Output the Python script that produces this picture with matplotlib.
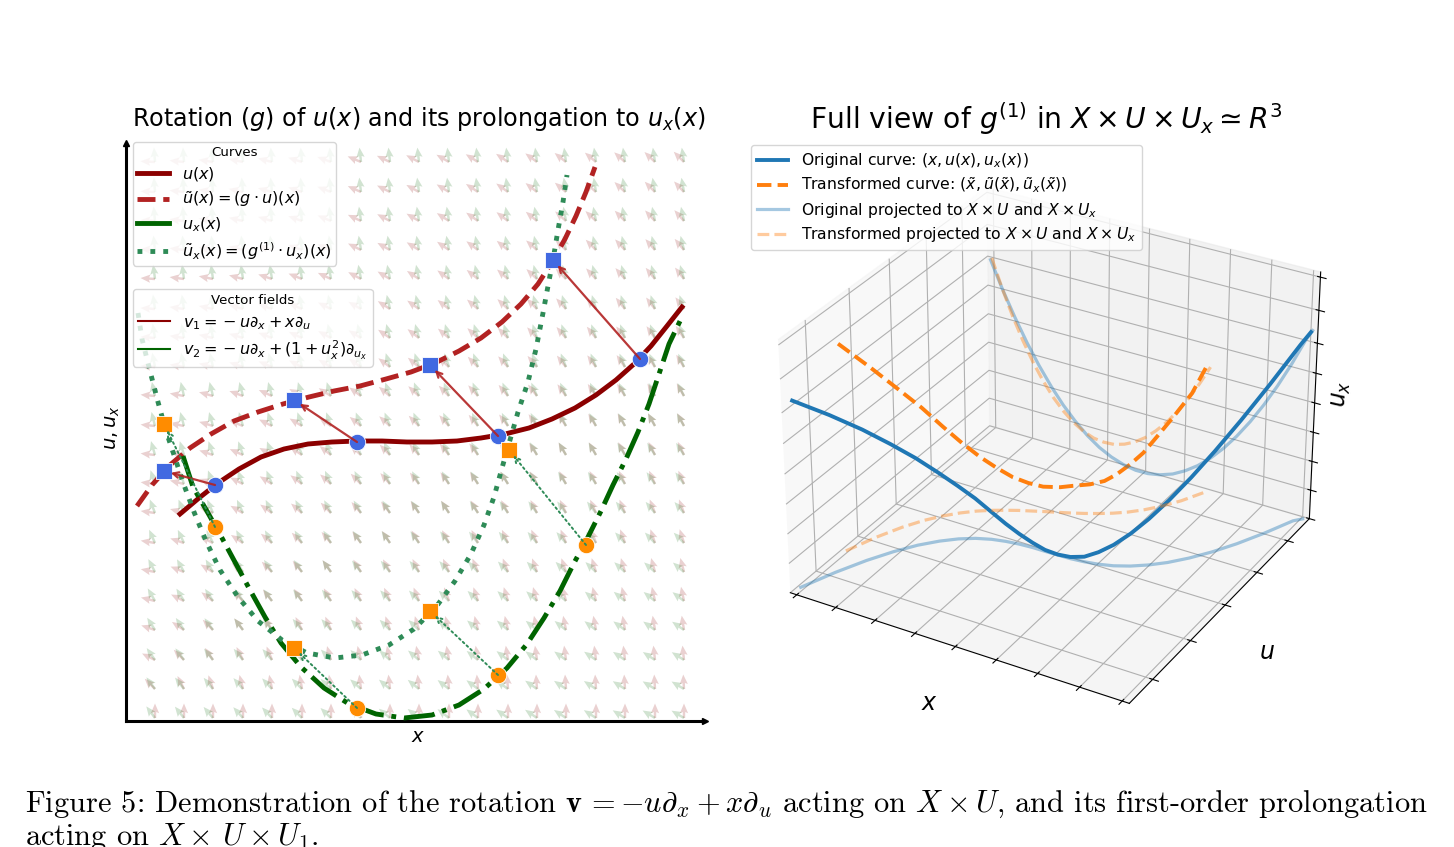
import numpy as np
import matplotlib
matplotlib.use("Agg")
import matplotlib.pyplot as plt
from matplotlib.lines import Line2D

W, H = 1454, 847

# curves in the (x, u) plane
u_xs = [0.54, 0.73, 0.92, 1.13, 1.35, 1.58, 1.82, 2.06, 2.31, 2.56, 2.81, 3.06, 3.31, 3.55, 3.79, 4.03, 4.26, 4.49, 4.70, 4.90, 5.08, 5.25, 5.41, 5.56]
u_ys = [2.07, 2.23, 2.38, 2.52, 2.64, 2.72, 2.77, 2.79, 2.80, 2.80, 2.79, 2.79, 2.80, 2.83, 2.87, 2.93, 3.02, 3.13, 3.26, 3.41, 3.57, 3.75, 3.95, 4.14]
ut_xs = [0.11, 0.26, 0.44, 0.64, 0.85, 1.08, 1.32, 1.57, 1.83, 2.08, 2.34, 2.60, 2.85, 3.09, 3.33, 3.55, 3.76, 3.95, 4.12, 4.26, 4.39, 4.50, 4.60, 4.69]
ut_ys = [2.15, 2.36, 2.56, 2.73, 2.87, 3.00, 3.09, 3.17, 3.24, 3.30, 3.35, 3.42, 3.49, 3.58, 3.70, 3.83, 3.99, 4.17, 4.37, 4.59, 4.82, 5.05, 5.29, 5.54]
ux_xs = [0.57, 0.67, 0.82, 0.96, 1.10, 1.24, 1.39, 1.55, 1.75, 1.98, 2.23, 2.50, 2.78, 3.06, 3.33, 3.58, 3.81, 4.01, 4.18, 4.34, 4.48, 4.62, 4.75, 4.87, 5.00, 5.12, 5.23, 5.33, 5.43, 5.55]
ux_ys = [2.65, 2.34, 2.08, 1.83, 1.57, 1.31, 1.04, 0.78, 0.54, 0.33, 0.17, 0.07, 0.03, 0.06, 0.16, 0.32, 0.53, 0.77, 1.03, 1.30, 1.58, 1.84, 2.10, 2.36, 2.62, 2.89, 3.17, 3.47, 3.77, 4.02]
uxt_xs = [0.12, 0.16, 0.24, 0.32, 0.40, 0.49, 0.58, 0.68, 0.80, 0.94, 1.12, 1.32, 1.56, 1.81, 2.09, 2.36, 2.63, 2.88, 3.10, 3.29, 3.45, 3.58, 3.68, 3.76, 3.84, 3.92, 4.02, 4.10, 4.17, 4.22, 4.27, 4.32, 4.37, 4.41]
uxt_ys = [4.08, 3.82, 3.50, 3.19, 2.90, 2.63, 2.36, 2.09, 1.80, 1.51, 1.24, 1.00, 0.81, 0.68, 0.63, 0.66, 0.76, 0.92, 1.14, 1.40, 1.67, 1.96, 2.24, 2.53, 2.81, 3.09, 3.39, 3.72, 4.08, 4.35, 4.61, 4.91, 5.19, 5.46]

# sample points on the curves and their images under g
p_u = [(0.89, 2.36), (2.31, 2.79), (3.72, 2.85), (5.14, 3.62)]
p_ut = [(0.38, 2.50), (1.68, 3.21), (3.04, 3.56), (4.27, 4.61)]
p_ux = [(0.89, 1.94), (2.31, 0.13), (3.72, 0.46), (4.60, 1.76)]
p_uxt = [(0.38, 2.97), (1.68, 0.73), (3.04, 1.10), (3.83, 2.71)]

# background field, one entry per grid column / row
grid_x = [0.29, 0.58, 0.87, 1.17, 1.46, 1.76, 2.05, 2.35, 2.64, 2.93, 3.23, 3.52, 3.82, 4.11, 4.40, 4.70, 4.99, 5.29, 5.58]
grid_y = [0.03, 0.32, 0.61, 0.91, 1.20, 1.49, 1.78, 2.08, 2.37, 2.66, 2.95, 3.25, 3.54, 3.83, 4.12, 4.42, 4.71, 5.00, 5.29, 5.59]
field_x = [0.18, 0.36, 0.54, 0.72, 0.90, 1.08, 1.26, 1.44, 1.62, 1.80, 1.98, 2.16, 2.34, 2.52, 2.70, 2.88, 3.06, 3.24, 3.42]
field_u = [0.00, 0.18, 0.36, 0.54, 0.72, 0.90, 1.08, 1.26, 1.44, 1.62, 1.80, 1.98, 2.16, 2.34, 2.52, 2.70, 2.88, 3.06, 3.24, 3.42]
green_dx = [0.75, 0.80, 0.85, 0.90, 0.95, 1.00, 1.05, 1.15, 1.20, 1.25, 1.30, 1.35, 1.40, 1.45, 1.50, 1.55, 1.60, 1.65, 1.70]
green_dy = [1.00, 1.02, 1.08, 1.18, 1.30, 1.45, 1.70, 1.96, 2.30, 2.60, 3.00, 3.40, 3.90, 4.50, 5.20, 6.00, 7.00, 8.00, 9.50, 11.0]

# 3D curves, all axes scaled to 0..1
xb = [0.009, 0.047, 0.086, 0.124, 0.162, 0.201, 0.239, 0.277, 0.316, 0.354, 0.392, 0.431, 0.469, 0.507, 0.545, 0.584, 0.622, 0.66, 0.699, 0.737, 0.775, 0.814, 0.852, 0.89, 0.929, 0.967, 0.985]
yb = [0.035, 0.14, 0.23, 0.302, 0.361, 0.407, 0.442, 0.467, 0.484, 0.494, 0.5, 0.503, 0.503, 0.504, 0.505, 0.51, 0.518, 0.531, 0.552, 0.58, 0.616, 0.664, 0.721, 0.79, 0.874, 0.968, 0.99]
zb = [0.748, 0.637, 0.534, 0.442, 0.36, 0.285, 0.221, 0.167, 0.115, 0.074, 0.043, 0.02, 0.006, 0.002, 0.007, 0.021, 0.05, 0.087, 0.135, 0.191, 0.256, 0.332, 0.415, 0.507, 0.611, 0.722, 0.765]
zb_wall = [0.708, 0.597, 0.494, 0.402, 0.32, 0.245, 0.181, 0.127, 0.08, 0.044, 0.018, 0.0, -0.009, -0.008, 0.002, 0.021, 0.05, 0.087, 0.135, 0.191, 0.256, 0.332, 0.415, 0.507, 0.611, 0.722, 0.765]
xo = [0.013, 0.045, 0.078, 0.11, 0.147, 0.184, 0.222, 0.259, 0.296, 0.334, 0.371, 0.415, 0.445, 0.49, 0.525, 0.552, 0.58, 0.607, 0.629, 0.656, 0.684, 0.695]
yo = [0.242, 0.339, 0.417, 0.476, 0.521, 0.557, 0.587, 0.61, 0.629, 0.647, 0.662, 0.677, 0.691, 0.706, 0.722, 0.74, 0.761, 0.786, 0.818, 0.858, 0.91, 0.977]
zo = [0.837, 0.693, 0.568, 0.468, 0.374, 0.296, 0.232, 0.186, 0.15, 0.128, 0.117, 0.122, 0.13, 0.144, 0.161, 0.187, 0.224, 0.267, 0.319, 0.384, 0.459, 0.54]
xo_proj = [0.013, 0.045, 0.078, 0.11, 0.142, 0.174, 0.207, 0.239, 0.271, 0.304, 0.336, 0.368, 0.4, 0.433, 0.465, 0.497, 0.53, 0.562, 0.594, 0.626, 0.659, 0.691]
zo_wall = [0.717, 0.603, 0.498, 0.408, 0.329, 0.261, 0.202, 0.156, 0.12, 0.093, 0.077, 0.072, 0.075, 0.089, 0.111, 0.142, 0.184, 0.232, 0.289, 0.354, 0.429, 0.51]

x_ticks = [0.02, 0.14, 0.26, 0.38, 0.50, 0.62, 0.74, 0.86, 0.98]
y_ticks = [0.12, 0.32, 0.51, 0.69, 0.87]
z_ticks = [0.0, 0.12, 0.24, 0.36, 0.48, 0.60, 0.72, 0.85, 0.98]

fig = plt.figure(figsize=(W / 100, H / 100), dpi=100)

# --- left panel: one data unit is 100 px ---
ax = fig.add_axes([126 / W, 1 - 721 / H, 579 / W, 578 / H])
ax.set_xlim(0, 5.79)
ax.set_ylim(0, 5.78)
for s in ["top", "right"]:
    ax.spines[s].set_visible(False)
for s in ["left", "bottom"]:
    ax.spines[s].set_linewidth(2.2)
ax.set_xticks([])
ax.set_yticks([])
ax.plot(1, 0, ">k", ms=5, transform=ax.transAxes, clip_on=False)
ax.plot(0, 1, "^k", ms=5, transform=ax.transAxes, clip_on=False)
fig.text(419 / W, 1 - 119 / H, r"Rotation ($g$) of $u(x)$ and its prolongation to $u_x(x)$", fontsize=17.2, ha="center", va="center")
ax.set_xlabel("$x$", fontsize=14, labelpad=4, x=0.505)
ax.set_ylabel("$u, u_x$", fontsize=14, labelpad=3, y=0.507)

gx, gy = np.meshgrid(grid_x, grid_y)
fx, fu = np.meshgrid(field_x, field_u)
n1 = np.hypot(fu, fx)
gdx, gdy = np.meshgrid(green_dx, green_dy)
n2 = np.hypot(gdx, gdy)
qkw = dict(angles="xy", scale_units="xy", scale=6.9, units="width", width=0.0042, headwidth=3.4, headlength=4, headaxislength=3.5, zorder=1)
ax.quiver(gx, gy, -fu / n1, fx / n1, color="darkred", alpha=0.18, **qkw)
ax.quiver(gx, gy, -gdx / n2, gdy / n2, color="darkgreen", alpha=0.18, **qkw)

lw = 3.5
ax.plot(u_xs, u_ys, color="darkred", lw=lw, zorder=3)
ax.plot(ut_xs, ut_ys, color="firebrick", lw=lw, ls="--", zorder=3)
ax.plot(ux_xs, ux_ys, color="darkgreen", lw=lw, ls="-.", zorder=3)
ax.plot(uxt_xs, uxt_ys, color="seagreen", lw=lw, ls=":", zorder=3)

for pts, mk, col in [(p_u, "o", "royalblue"), (p_ut, "s", "royalblue"), (p_ux, "o", "darkorange"), (p_uxt, "s", "darkorange")]:
    ax.scatter(*zip(*pts), marker=mk, s=140, color=col, edgecolor="white", linewidth=0.6, zorder=4)
for a, b in zip(p_u, p_ut):
    ax.annotate("", xy=b, xytext=a, zorder=5, arrowprops=dict(arrowstyle="->", color="firebrick", lw=1.6, alpha=0.9, shrinkA=0, shrinkB=5))
for a, b in zip(p_ux, p_uxt):
    ax.annotate("", xy=b, xytext=a, zorder=5, arrowprops=dict(arrowstyle="->", color="seagreen", lw=1.4, ls=":", shrinkA=0, shrinkB=5))

h1 = [Line2D([], [], color="darkred", lw=lw), Line2D([], [], color="firebrick", lw=lw, ls="--"),
      Line2D([], [], color="darkgreen", lw=lw), Line2D([], [], color="seagreen", lw=lw, ls=":")]
l1 = ["$u(x)$", r"$\tilde{u}(x) = (g \cdot u)(x)$", "$u_x(x)$", r"$\tilde{u}_x(x) = (g^{(1)} \cdot u_x)(x)$"]
leg1 = ax.legend(h1, l1, title="Curves", loc="upper left", bbox_to_anchor=(7 / 579, 1 + 1 / 578), borderaxespad=0, fontsize=11.5, title_fontsize=9.6, labelspacing=0.38, borderpad=0.26)
ax.add_artist(leg1)
h2 = [Line2D([], [], color="darkred", lw=1.5), Line2D([], [], color="darkgreen", lw=1.5)]
l2 = [r"$v_1 = {}-u\partial_x + x\partial_u$", r"$v_2 = {}-u\partial_x + (1+u_x^2)\partial_{u_x}$"]
ax.legend(h2, l2, title="Vector fields", loc="upper left", bbox_to_anchor=(7 / 579, 1 - 146 / 578), borderaxespad=0, fontsize=11.5, title_fontsize=9.6, labelspacing=0.42, borderpad=0.32)

# --- right panel ---
ax3 = fig.add_axes([745.5 / W, 1 - 742 / H, 602 / W, 602 / H], projection="3d")
ax3.view_init(elev=30, azim=-60)
ax3.set_box_aspect((4, 4, 2.97))
ax3.set_xlim(0, 1, view_margin=0)
ax3.set_ylim(0, 1, view_margin=0)
ax3.set_zlim(0, 1, view_margin=0)
ax3.set_xticks(x_ticks)
ax3.set_yticks(y_ticks)
ax3.set_zticks(z_ticks)
ax3.set_xticklabels([])
ax3.set_yticklabels([])
ax3.set_zticklabels([])
ax3.plot(xb, yb, zb, color="C0", lw=2.8, label=r"Original curve: $(x, u(x), u_x(x))$")
ax3.plot(xo, yo, zo, color="C1", lw=2.8, ls="--", label=r"Transformed curve: $(\tilde{x}, \tilde{u}(\tilde{x}), \tilde{u}_x(\tilde{x}))$")
# shadows on the floor (u side) and on the back wall (u_x side)
ax3.plot(xb, yb, 0, color="C0", lw=2.3, alpha=0.4, label=r"Original projected to $X \times U$ and $X \times U_x$")
ax3.plot(xb, [1.0] * len(xb), zb_wall, color="C0", lw=2.3, alpha=0.4)
ax3.plot(xo_proj, yo, 0, color="C1", lw=2.3, ls="--", alpha=0.4, label=r"Transformed projected to $X \times U$ and $X \times U_x$")
ax3.plot(xo_proj, [1.0] * len(xo_proj), zo_wall, color="C1", lw=2.3, ls="--", alpha=0.4)
ax3.set_xlabel("$x$", fontsize=17, labelpad=8)
ax3.set_ylabel("$u$", fontsize=17, labelpad=8)
ax3.set_zlabel("$u_x$", fontsize=17, labelpad=-9.5)
ax3.legend(loc="upper left", bbox_to_anchor=(751 / W, 1 - 145 / H), bbox_transform=fig.transFigure, borderaxespad=0, fontsize=11.25, labelspacing=0.35)
fig.text((811 + 1281) / 2 / W, 1 - 118.5 / H, r"Full view of $g^{(1)}$ in $X \times U \times U_x \simeq R^3$", fontsize=20.3, ha="center", va="center")

# caption under both panels
fig.text(25 / W, 1 - 812 / H, r"Figure 5: Demonstration of the rotation $\mathbf{v}\,= -u\partial_x + x\partial_u$ acting on $X \times U$, and its first-order prolongation", family="cmr10", math_fontfamily="cm", fontsize=21.9)
fig.text(25 / W, 1 - 845 / H, r"acting on $X \times\, U \times U_1$.", family="cmr10", math_fontfamily="cm", fontsize=21.9)

fig.savefig("out.png", dpi=100)
